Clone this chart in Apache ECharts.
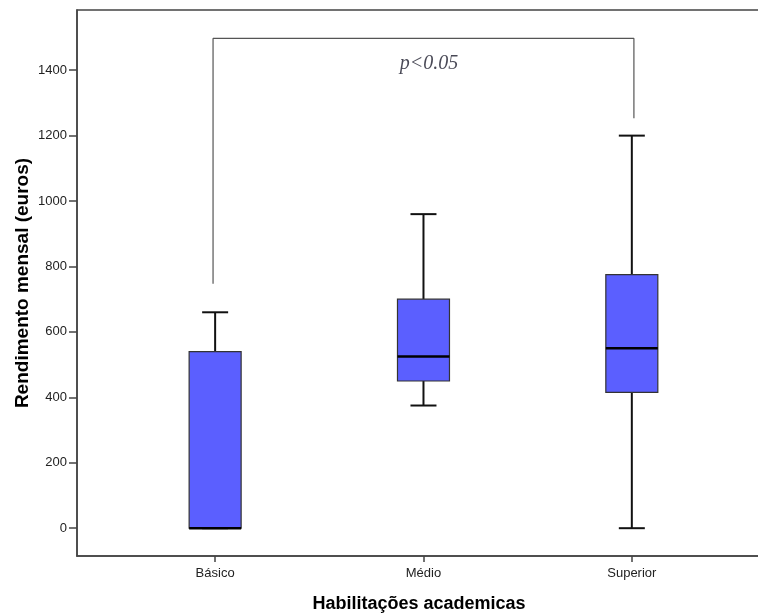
<!DOCTYPE html>
<html>
<head>
<meta charset="utf-8">
<script src="https://cdn.jsdelivr.net/npm/echarts@6/dist/echarts.min.js"></script>
<style>html,body{margin:0;padding:0;background:#fff;}#c{width:758px;height:613px;}</style>
</head>
<body>
<div id="c"></div>
<script>
const categories = ['Básico', 'Médio', 'Superior'];
const whiskerLow = [0, 375, 0];
const q1 = [0, 450, 415];
const medians = [0, 525, 550];
const q3 = [540, 700, 775];
const whiskerHigh = [660, 960, 1200];
const yTicks = [0, 200, 400, 600, 800, 1000, 1200, 1400];
const xTicks = [0, 1, 2];
const bracketX = [-0.01, -0.01, 2.01, 2.01];
const bracketY = [747, 1497, 1497, 1253];
const pLabel = 'p<0.05';
const pLabelPos = [1.027, 1419];

const boxData = categories.map((c, i) => [i, whiskerLow[i], q1[i], medians[i], q3[i], whiskerHigh[i]]);

const BOX_W = 52, CAP_W = 26;
const chart = echarts.init(document.getElementById('c'));
chart.setOption({
  animation: false,
  backgroundColor: '#fff',
  grid: { left: 77, top: 10, right: -3, bottom: 57, containLabel: false, outerBoundsMode: 'none',
    show: true, borderColor: '#444', borderWidth: 1.5, backgroundColor: 'transparent' },
  xAxis: {
    type: 'value', min: -0.663, max: 2.62,
    name: 'Habilitações academicas', nameLocation: 'middle', nameGap: 39, nameMoveOverlap: false,
    nameTextStyle: { fontFamily: 'Liberation Sans', fontWeight: 'bold', fontSize: 18, color: '#000' },
    axisLine: { show: true, onZero: false, lineStyle: { color: '#444', width: 1.5 } },
    axisTick: { show: true, length: 6, customValues: xTicks, lineStyle: { color: '#444', width: 1.5 } },
    axisLabel: { customValues: xTicks, formatter: v => categories[Math.round(v)] || '', margin: 11,
      fontFamily: 'Liberation Sans', fontSize: 13, color: '#222' },
    splitLine: { show: false }
  },
  yAxis: {
    type: 'value', min: -85, max: 1584,
    name: 'Rendimento mensal (euros)', nameLocation: 'middle', nameGap: 45, nameRotate: 90, nameMoveOverlap: false,
    nameTextStyle: { fontFamily: 'Liberation Sans', fontWeight: 'bold', fontSize: 19, color: '#000' },
    axisLine: { show: true, onZero: false, lineStyle: { color: '#444', width: 1.5 } },
    axisTick: { show: true, length: 8, customValues: yTicks, lineStyle: { color: '#444', width: 1.5 } },
    axisLabel: { customValues: yTicks, formatter: v => String(v), margin: 10,
      fontFamily: 'Liberation Sans', fontSize: 13, color: '#222' },
    splitLine: { show: false }
  },
  series: [
    {
      type: 'custom',
      data: boxData,
      renderItem: function (params, api) {
        const x = api.value(0);
        const lo = api.coord([x, api.value(1)]);
        const b1 = api.coord([x, api.value(2)]);
        const md = api.coord([x, api.value(3)]);
        const b3 = api.coord([x, api.value(4)]);
        const hi = api.coord([x, api.value(5)]);
        const cx = lo[0];
        const lineStyle = { stroke: '#111', lineWidth: 2 };
        return {
          type: 'group',
          children: [
            { type: 'line', shape: { x1: cx, y1: b3[1], x2: cx, y2: hi[1] }, style: lineStyle },
            { type: 'line', shape: { x1: cx, y1: b1[1], x2: cx, y2: lo[1] }, style: lineStyle },
            { type: 'line', shape: { x1: cx - CAP_W / 2, y1: hi[1], x2: cx + CAP_W / 2, y2: hi[1] }, style: lineStyle },
            { type: 'line', shape: { x1: cx - CAP_W / 2, y1: lo[1], x2: cx + CAP_W / 2, y2: lo[1] }, style: lineStyle },
            { type: 'rect', shape: { x: cx - BOX_W / 2, y: b3[1], width: BOX_W, height: b1[1] - b3[1] },
              style: { fill: '#5b5fff', stroke: '#333', lineWidth: 1.2 } },
            { type: 'line', shape: { x1: cx - BOX_W / 2, y1: md[1], x2: cx + BOX_W / 2, y2: md[1] },
              style: { stroke: '#000', lineWidth: 2.5 } }
          ]
        };
      }
    },
    {
      type: 'line',
      data: bracketX.map((x, i) => [x, bracketY[i]]),
      symbol: 'none',
      lineStyle: { color: '#555', width: 1.2 },
      silent: true
    },
    {
      type: 'scatter',
      data: [pLabelPos],
      symbolSize: 0,
      label: { show: true, position: 'inside', formatter: pLabel,
        fontFamily: 'Liberation Serif', fontStyle: 'italic', fontSize: 20, color: '#1a1a2a' }
    }
  ]
});
</script>
</body>
</html>
